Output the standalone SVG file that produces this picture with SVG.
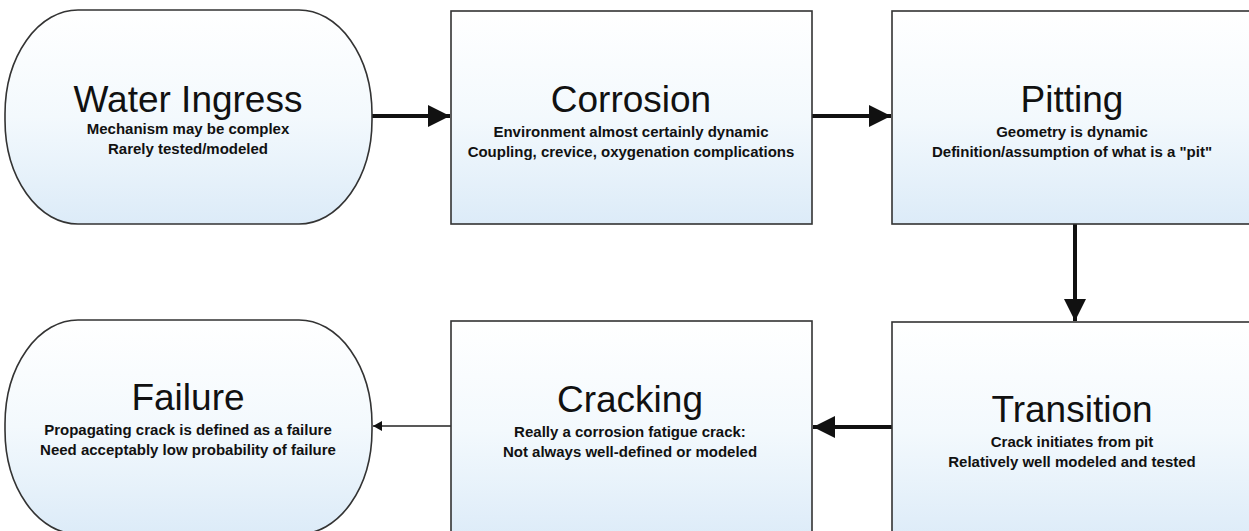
<svg xmlns="http://www.w3.org/2000/svg" width="1249" height="531" viewBox="0 0 1249 531">
<defs>
<linearGradient id="fillg" x1="0" y1="0" x2="0" y2="1">
<stop offset="0" stop-color="#ffffff"/>
<stop offset="0.5" stop-color="#f3f9fd"/>
<stop offset="1" stop-color="#dcebf8"/>
</linearGradient>
<marker id="big" markerUnits="userSpaceOnUse" markerWidth="24" markerHeight="22" refX="22" refY="11" orient="auto">
<path d="M0,0 L22,11 L0,22 Z" fill="#111"/>
</marker>
<marker id="small" markerUnits="userSpaceOnUse" markerWidth="10" markerHeight="10" refX="9" refY="5" orient="auto">
<path d="M0,0 L9,5 L0,10 Z" fill="#111"/>
</marker>
<style>
.node{fill:url(#fillg);stroke:#333;stroke-width:1.6}
.t{font-family:"Liberation Sans",Arial,sans-serif;font-size:37px;fill:#111;text-anchor:middle}
.s{font-family:"Liberation Sans",Arial,sans-serif;font-size:15px;font-weight:bold;fill:#111;text-anchor:middle}
.thick{stroke:#111;stroke-width:4;fill:none}
.thin{stroke:#222;stroke-width:1.5;fill:none}
</style>
</defs>
<rect width="1249" height="531" fill="#ffffff"/>
<g id="connectors">
<line class="thick" x1="372" y1="116" x2="450" y2="116" marker-end="url(#big)"/>
<line class="thick" x1="812" y1="116" x2="891" y2="116" marker-end="url(#big)"/>
<line class="thick" x1="1075" y1="224" x2="1075" y2="321" marker-end="url(#big)"/>
<line class="thick" x1="892" y1="427" x2="813" y2="427" marker-end="url(#big)"/>
<line class="thin" x1="451" y1="426" x2="373" y2="426" marker-end="url(#small)"/>
</g>
<g id="water-ingress">
<rect class="node" x="5" y="10" width="367" height="214" rx="73" ry="104"/>
<text class="t" x="188" y="112">Water Ingress</text>
<text class="s" x="188" y="134">Mechanism may be complex</text>
<text class="s" x="188" y="154">Rarely tested/modeled</text>
</g>
<g id="corrosion">
<rect class="node" x="451" y="11" width="361" height="213"/>
<text class="t" x="631" y="112">Corrosion</text>
<text class="s" x="631" y="137">Environment almost certainly dynamic</text>
<text class="s" x="631" y="157">Coupling, crevice, oxygenation complications</text>
</g>
<g id="pitting">
<rect class="node" x="892" y="11" width="370" height="213"/>
<text class="t" x="1072" y="112">Pitting</text>
<text class="s" x="1072" y="137">Geometry is dynamic</text>
<text class="s" x="1072" y="157">Definition/assumption of what is a "pit"</text>
</g>
<g id="transition">
<rect class="node" x="892" y="322" width="370" height="220"/>
<text class="t" x="1072" y="422">Transition</text>
<text class="s" x="1072" y="447">Crack initiates from pit</text>
<text class="s" x="1072" y="467">Relatively well modeled and tested</text>
</g>
<g id="cracking">
<rect class="node" x="451" y="321" width="361" height="220"/>
<text class="t" x="630" y="412">Cracking</text>
<text class="s" x="630" y="437">Really a corrosion fatigue crack:</text>
<text class="s" x="630" y="457">Not always well-defined or modeled</text>
</g>
<g id="failure">
<rect class="node" x="5" y="320" width="367" height="214" rx="73" ry="104"/>
<text class="t" x="188" y="410">Failure</text>
<text class="s" x="188" y="435">Propagating crack is defined as a failure</text>
<text class="s" x="188" y="455">Need acceptably low probability of failure</text>
</g>
</svg>
